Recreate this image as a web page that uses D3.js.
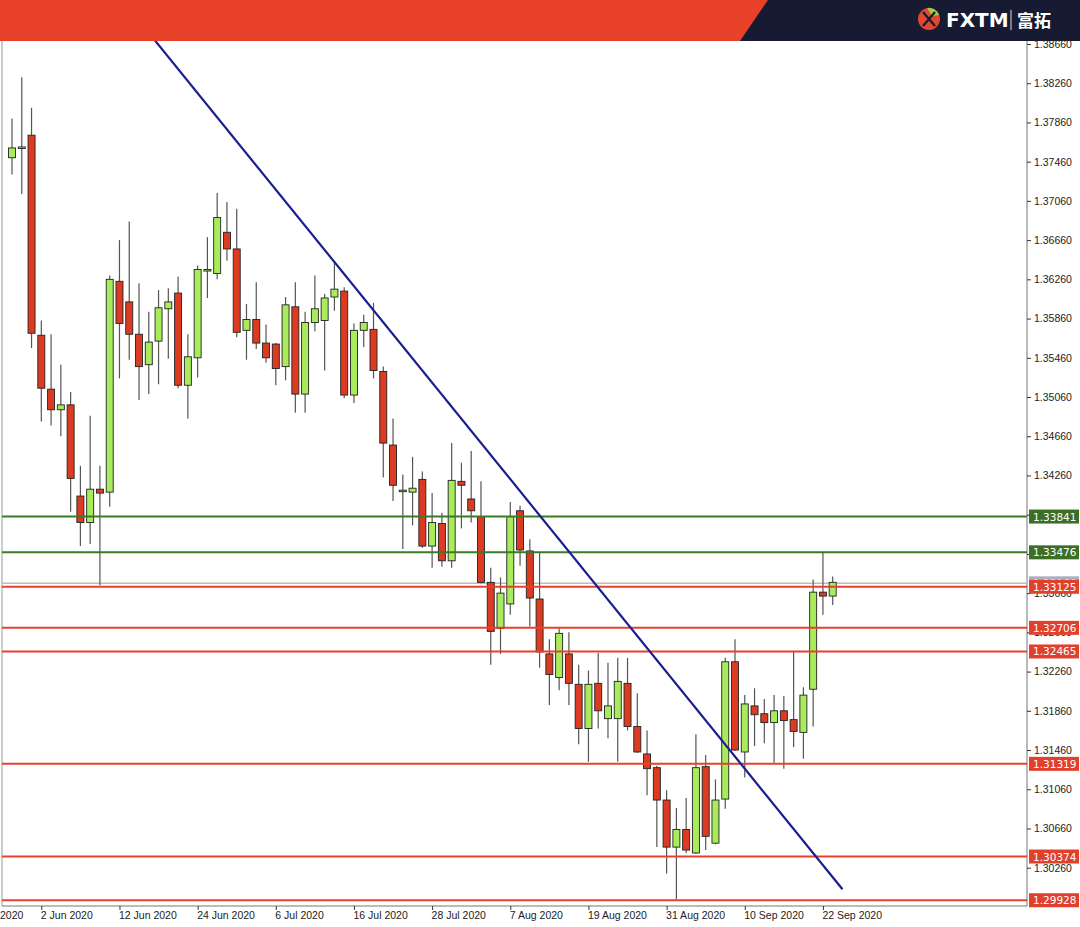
<!DOCTYPE html>
<html><head><meta charset="utf-8">
<script src="https://cdn.jsdelivr.net/npm/d3@7"></script>
<style>
body{margin:0;background:#fff;}
svg{display:block;font-family:"DejaVu Sans",sans-serif;}
</style></head>
<body>
<svg id="chart" width="1080" height="927"></svg>
<script>
// daily candles, 28 May 2020 -> 23 Sep 2020 (index = trading day)
const opens  = [1.3750,1.3760,1.3773,1.3569,1.3514,1.3493,1.3498,1.3405,1.3378,1.3412,1.3409,1.3624,1.3603,1.3570,1.3539,1.3563,1.3596,1.3612,1.3518,1.3546,1.3636,1.3632,1.3674,1.3657,1.3574,1.3585,1.3561,1.3560,1.3537,1.3598,1.3509,1.3582,1.3584,1.3608,1.3614,1.3508,1.3574,1.3575,1.3532,1.3457,1.3411,1.3409,1.3422,1.3354,1.3377,1.3339,1.3420,1.3402,1.3384,1.3317,1.3270,1.3295,1.3390,1.3349,1.3300,1.3244,1.3220,1.3244,1.3213,1.3168,1.3214,1.3178,1.3178,1.3214,1.3170,1.3142,1.3128,1.3095,1.3047,1.3065,1.3041,1.3129,1.3051,1.3096,1.3236,1.3144,1.3191,1.3183,1.3174,1.3186,1.3177,1.3164,1.3208,1.3307,1.3303];
const highs  = [1.3790,1.3832,1.3801,1.3584,1.3570,1.3539,1.3511,1.3436,1.3487,1.3436,1.3630,1.3666,1.3685,1.3622,1.3593,1.3615,1.3617,1.3629,1.3570,1.3640,1.3669,1.3714,1.3705,1.3698,1.3601,1.3623,1.3580,1.3561,1.3608,1.3623,1.3593,1.3630,1.3611,1.3643,1.3618,1.3581,1.3590,1.3602,1.3537,1.3484,1.3427,1.3445,1.3430,1.3408,1.3388,1.3459,1.3439,1.3451,1.3420,1.3332,1.3322,1.3399,1.3395,1.3361,1.3347,1.3259,1.3270,1.3266,1.3233,1.3227,1.3245,1.3235,1.3240,1.3240,1.3204,1.3166,1.3130,1.3105,1.3087,1.3097,1.3162,1.3141,1.3116,1.3240,1.3259,1.3202,1.3209,1.3198,1.3202,1.3201,1.3246,1.3210,1.3320,1.3347,1.3323];
const lows   = [1.3733,1.3713,1.3556,1.3481,1.3477,1.3466,1.3389,1.3354,1.3356,1.3314,1.3394,1.3525,1.3544,1.3503,1.3509,1.3519,1.3545,1.3515,1.3484,1.3526,1.3607,1.3626,1.3645,1.3567,1.3544,1.3555,1.3541,1.3518,1.3523,1.3490,1.3490,1.3573,1.3533,1.3594,1.3505,1.3500,1.3557,1.3525,1.3424,1.3400,1.3351,1.3375,1.3352,1.3332,1.3333,1.3332,1.3372,1.3378,1.3316,1.3233,1.3244,1.3284,1.3334,1.3272,1.3230,1.3192,1.3207,1.3192,1.3152,1.3134,1.3168,1.3158,1.3134,1.3166,1.3143,1.3100,1.3047,1.3020,1.2994,1.3041,1.3040,1.3044,1.3050,1.3086,1.3145,1.3118,1.3150,1.3153,1.3133,1.3127,1.3149,1.3137,1.3170,1.3284,1.3294];
const closes = [1.3760,1.3761,1.3571,1.3515,1.3493,1.3498,1.3423,1.3378,1.3412,1.3408,1.3626,1.3581,1.3570,1.3537,1.3562,1.3597,1.3603,1.3518,1.3547,1.3636,1.3636,1.3689,1.3657,1.3572,1.3585,1.3561,1.3546,1.3535,1.3600,1.3509,1.3582,1.3596,1.3607,1.3616,1.3508,1.3574,1.3582,1.3533,1.3459,1.3416,1.3411,1.3413,1.3354,1.3378,1.3339,1.3421,1.3416,1.3390,1.3317,1.3267,1.3306,1.3384,1.3350,1.3301,1.3246,1.3223,1.3265,1.3214,1.3168,1.3213,1.3186,1.3191,1.3216,1.3170,1.3144,1.3127,1.3095,1.3047,1.3065,1.3044,1.3128,1.3058,1.3095,1.3236,1.3146,1.3193,1.3182,1.3174,1.3186,1.3176,1.3165,1.3202,1.3307,1.3303,1.3317];

const dateTicks = [-5,3,11,19,27,35,43,51,59,67,75,83];
const dateLabels = ["28 May 2020","2 Jun 2020","12 Jun 2020","24 Jun 2020","6 Jul 2020","16 Jul 2020","28 Jul 2020","7 Aug 2020","19 Aug 2020","31 Aug 2020","10 Sep 2020","22 Sep 2020"];
const priceTicks = [1.38660,1.38260,1.37860,1.37460,1.37060,1.36660,1.36260,1.35860,1.35460,1.35060,1.34660,1.34260,1.33860,1.33460,1.33060,1.32660,1.32260,1.31860,1.31460,1.31060,1.30660,1.30260];
const greenLevels = [1.33841,1.33476];
const redLevels = [1.33125,1.32706,1.32465,1.31319,1.30374,1.29928];
const currentPrice = 1.33160;
const trendIdx = [14.6,85.0];
const trendPrice = [1.3870,1.3004];

const svg = d3.select('#chart');
const plotL = 2, plotR = 1027, plotT = 41, plotB = 906;

const x = d3.scaleLinear().domain([0,84]).range([12,832.7]);
const y = d3.scaleLinear().domain([1.30260,1.38660]).range([867.7,44]);

// header
svg.append('rect').attr('x',0).attr('y',0).attr('width',1080).attr('height',41).attr('fill','#161a33');
svg.append('path').attr('d','M0,0H768L740,41H0Z').attr('fill','#e8412a');
const logo = svg.append('g').attr('transform','translate(929,19)');
logo.append('circle').attr('r',11).attr('fill','#e0492e');
logo.append('path').attr('d','M-2,-11A11,11 0 0 1 10,-4L3,-3Z').attr('fill','#9acd4a');
logo.append('path').attr('d','M-6,-7Q0,0 6,7M-6,7Q0,0 6,-7').attr('stroke','#161a33').attr('stroke-width',2.2).attr('fill','none');
svg.append('text').attr('x',946).attr('y',27).attr('fill','#fff').attr('font-size',20).attr('font-weight','bold')
  .attr('font-family','"DejaVu Sans",sans-serif').text('FXTM');
svg.append('line').attr('x1',1011).attr('x2',1011).attr('y1',10).attr('y2',30).attr('stroke','#ddd').attr('stroke-width',1);
svg.append('text').attr('x',1017).attr('y',27).attr('fill','#fff').attr('font-size',17).attr('font-weight','bold')
  .attr('font-family','"Noto Sans CJK SC"').text('富拓');

const clip = svg.append('defs').append('clipPath').attr('id','plot')
  .append('rect').attr('x',plotL).attr('y',plotT).attr('width',plotR-plotL).attr('height',plotB-plotT);

// right axis
const yAxis = svg.append('g').attr('transform',`translate(${plotR},0)`)
  .call(d3.axisRight(y).tickValues(priceTicks).tickFormat(d3.format('.5f')).tickSize(4).tickPadding(3));
yAxis.select('.domain').attr('stroke','#777').attr('d',`M0,${plotT}V${plotB}`);
yAxis.selectAll('text').attr('font-size',10.5).attr('fill','#222');
yAxis.selectAll('line').attr('stroke','#333');

// bottom axis
const xAxis = svg.append('g').attr('transform',`translate(0,${plotB})`)
  .call(d3.axisBottom(x).tickValues(dateTicks).tickFormat((d,i)=>dateLabels[i]).tickSize(4).tickPadding(2));
xAxis.select('.domain').attr('stroke','#777').attr('d',`M${plotL},0H${plotR}`);
xAxis.selectAll('text').attr('font-size',10.5).attr('fill','#222').attr('text-anchor','start').attr('dx',-1);
xAxis.selectAll('line').attr('stroke','#333');
svg.append('line').attr('x1',plotL).attr('x2',plotL).attr('y1',plotT).attr('y2',plotB).attr('stroke','#999');

const g = svg.append('g').attr('clip-path','url(#plot)');

// current price line
g.append('line').attr('x1',plotL).attr('x2',plotR).attr('y1',y(currentPrice)).attr('y2',y(currentPrice))
  .attr('stroke','#b8bcc8').attr('stroke-width',1.5);

// candles
const idx = d3.range(opens.length);
g.selectAll('.wick').data(idx).join('line')
  .attr('x1',i=>x(i)).attr('x2',i=>x(i)).attr('y1',i=>y(highs[i])).attr('y2',i=>y(lows[i]))
  .attr('stroke','#555').attr('stroke-width',1.2);
g.selectAll('.body').data(idx).join('rect')
  .attr('x',i=>x(i)-3.5).attr('width',7)
  .attr('y',i=>y(Math.max(opens[i],closes[i])))
  .attr('height',i=>Math.max(1.5,Math.abs(y(opens[i])-y(closes[i]))))
  .attr('fill',i=>closes[i]>=opens[i]?'#a8ec5c':'#dc3b22')
  .attr('stroke','#222').attr('stroke-width',0.9);

// levels
g.selectAll('.gl').data(greenLevels).join('line')
  .attr('x1',plotL).attr('x2',plotR).attr('y1',d=>y(d)).attr('y2',d=>y(d))
  .attr('stroke','#3d7a25').attr('stroke-width',2);
g.selectAll('.rl').data(redLevels).join('line')
  .attr('x1',plotL).attr('x2',plotR).attr('y1',d=>y(d)).attr('y2',d=>y(d))
  .attr('stroke','#e8402c').attr('stroke-width',2);

// trend line
g.append('line').attr('x1',x(trendIdx[0])).attr('y1',y(trendPrice[0]))
  .attr('x2',x(trendIdx[1])).attr('y2',y(trendPrice[1]))
  .attr('stroke','#1a1f8f').attr('stroke-width',2.2);

// price tags
function tag(p,color){
  svg.append('rect').attr('x',plotR+2).attr('y',y(p)-7).attr('width',50).attr('height',14).attr('fill',color);
  svg.append('text').attr('x',plotR+6).attr('y',y(p)+4).attr('fill','#fff').attr('font-size',10.5).text(d3.format('.5f')(p));
}
tag(currentPrice,'#aab0c0');
greenLevels.forEach(p=>tag(p,'#3d6e25'));
redLevels.forEach(p=>tag(p,'#e0402c'));
</script>
</body></html>
